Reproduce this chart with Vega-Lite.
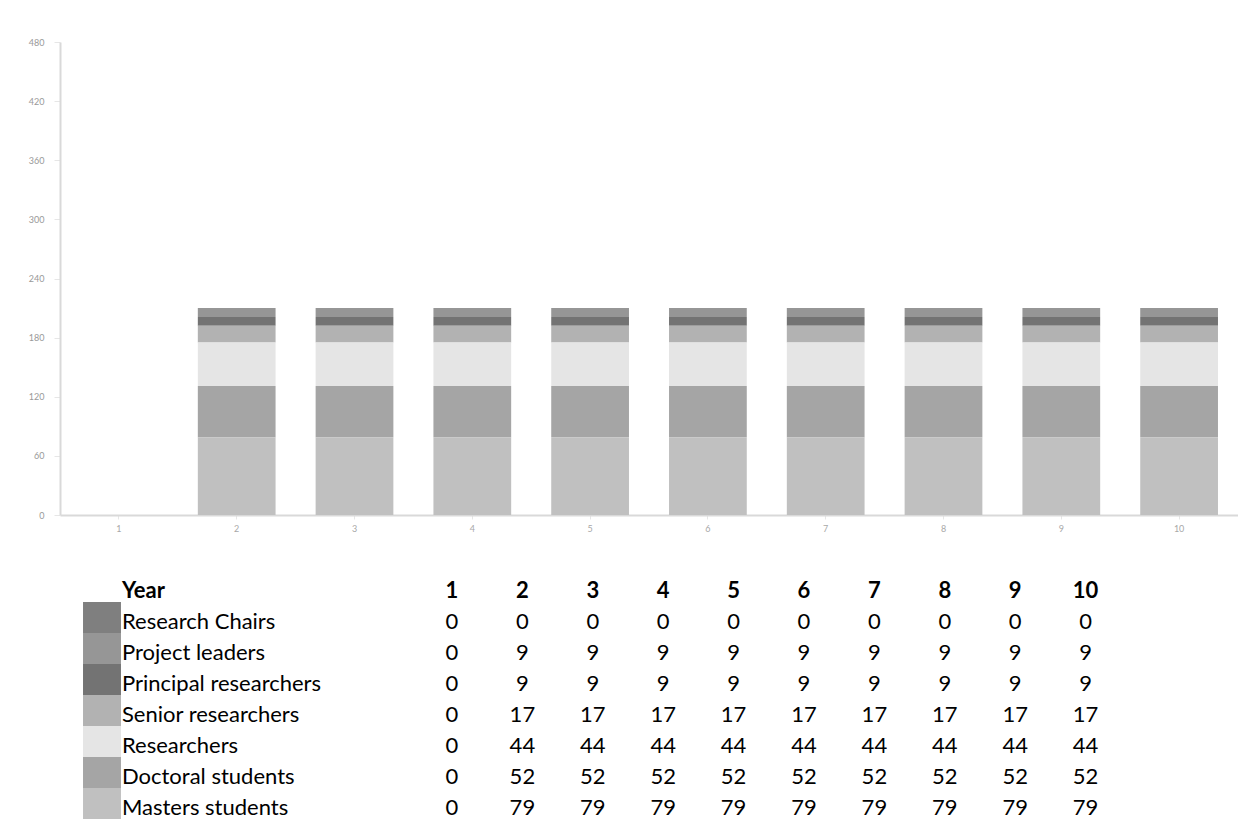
{
  "$schema": "https://vega.github.io/schema/vega-lite/v6.json",
  "padding": {"left": 28, "top": 38, "right": 0, "bottom": 0},
  "bounds": "flush",
  "spacing": 56,
  "config": {
    "view": {"stroke": null},
    "font": "Lato",
    "text": {"font": "Lato"}
  },
  "datasets": {
    "cells": [
      {"category": "Research Chairs", "level": 7, "year": 1, "value": 0},
      {"category": "Research Chairs", "level": 7, "year": 2, "value": 0},
      {"category": "Research Chairs", "level": 7, "year": 3, "value": 0},
      {"category": "Research Chairs", "level": 7, "year": 4, "value": 0},
      {"category": "Research Chairs", "level": 7, "year": 5, "value": 0},
      {"category": "Research Chairs", "level": 7, "year": 6, "value": 0},
      {"category": "Research Chairs", "level": 7, "year": 7, "value": 0},
      {"category": "Research Chairs", "level": 7, "year": 8, "value": 0},
      {"category": "Research Chairs", "level": 7, "year": 9, "value": 0},
      {"category": "Research Chairs", "level": 7, "year": 10, "value": 0},
      {"category": "Project leaders", "level": 6, "year": 1, "value": 0},
      {"category": "Project leaders", "level": 6, "year": 2, "value": 9},
      {"category": "Project leaders", "level": 6, "year": 3, "value": 9},
      {"category": "Project leaders", "level": 6, "year": 4, "value": 9},
      {"category": "Project leaders", "level": 6, "year": 5, "value": 9},
      {"category": "Project leaders", "level": 6, "year": 6, "value": 9},
      {"category": "Project leaders", "level": 6, "year": 7, "value": 9},
      {"category": "Project leaders", "level": 6, "year": 8, "value": 9},
      {"category": "Project leaders", "level": 6, "year": 9, "value": 9},
      {"category": "Project leaders", "level": 6, "year": 10, "value": 9},
      {"category": "Principal researchers", "level": 5, "year": 1, "value": 0},
      {"category": "Principal researchers", "level": 5, "year": 2, "value": 9},
      {"category": "Principal researchers", "level": 5, "year": 3, "value": 9},
      {"category": "Principal researchers", "level": 5, "year": 4, "value": 9},
      {"category": "Principal researchers", "level": 5, "year": 5, "value": 9},
      {"category": "Principal researchers", "level": 5, "year": 6, "value": 9},
      {"category": "Principal researchers", "level": 5, "year": 7, "value": 9},
      {"category": "Principal researchers", "level": 5, "year": 8, "value": 9},
      {"category": "Principal researchers", "level": 5, "year": 9, "value": 9},
      {"category": "Principal researchers", "level": 5, "year": 10, "value": 9},
      {"category": "Senior researchers", "level": 4, "year": 1, "value": 0},
      {"category": "Senior researchers", "level": 4, "year": 2, "value": 17},
      {"category": "Senior researchers", "level": 4, "year": 3, "value": 17},
      {"category": "Senior researchers", "level": 4, "year": 4, "value": 17},
      {"category": "Senior researchers", "level": 4, "year": 5, "value": 17},
      {"category": "Senior researchers", "level": 4, "year": 6, "value": 17},
      {"category": "Senior researchers", "level": 4, "year": 7, "value": 17},
      {"category": "Senior researchers", "level": 4, "year": 8, "value": 17},
      {"category": "Senior researchers", "level": 4, "year": 9, "value": 17},
      {"category": "Senior researchers", "level": 4, "year": 10, "value": 17},
      {"category": "Researchers", "level": 3, "year": 1, "value": 0},
      {"category": "Researchers", "level": 3, "year": 2, "value": 44},
      {"category": "Researchers", "level": 3, "year": 3, "value": 44},
      {"category": "Researchers", "level": 3, "year": 4, "value": 44},
      {"category": "Researchers", "level": 3, "year": 5, "value": 44},
      {"category": "Researchers", "level": 3, "year": 6, "value": 44},
      {"category": "Researchers", "level": 3, "year": 7, "value": 44},
      {"category": "Researchers", "level": 3, "year": 8, "value": 44},
      {"category": "Researchers", "level": 3, "year": 9, "value": 44},
      {"category": "Researchers", "level": 3, "year": 10, "value": 44},
      {"category": "Doctoral students", "level": 2, "year": 1, "value": 0},
      {"category": "Doctoral students", "level": 2, "year": 2, "value": 52},
      {"category": "Doctoral students", "level": 2, "year": 3, "value": 52},
      {"category": "Doctoral students", "level": 2, "year": 4, "value": 52},
      {"category": "Doctoral students", "level": 2, "year": 5, "value": 52},
      {"category": "Doctoral students", "level": 2, "year": 6, "value": 52},
      {"category": "Doctoral students", "level": 2, "year": 7, "value": 52},
      {"category": "Doctoral students", "level": 2, "year": 8, "value": 52},
      {"category": "Doctoral students", "level": 2, "year": 9, "value": 52},
      {"category": "Doctoral students", "level": 2, "year": 10, "value": 52},
      {"category": "Masters students", "level": 1, "year": 1, "value": 0},
      {"category": "Masters students", "level": 1, "year": 2, "value": 79},
      {"category": "Masters students", "level": 1, "year": 3, "value": 79},
      {"category": "Masters students", "level": 1, "year": 4, "value": 79},
      {"category": "Masters students", "level": 1, "year": 5, "value": 79},
      {"category": "Masters students", "level": 1, "year": 6, "value": 79},
      {"category": "Masters students", "level": 1, "year": 7, "value": 79},
      {"category": "Masters students", "level": 1, "year": 8, "value": 79},
      {"category": "Masters students", "level": 1, "year": 9, "value": 79},
      {"category": "Masters students", "level": 1, "year": 10, "value": 79}
    ]
  },
  "vconcat": [
    {
      "width": 1178,
      "height": 473,
      "data": {"name": "cells"},
      "mark": {"type": "bar"},
      "encoding": {
        "x": {
          "field": "year", "type": "ordinal",
          "scale": {"paddingInner": 0.34, "paddingOuter": 0.17},
          "axis": {"title": null, "labelAngle": 0, "labelFontSize": 9, "labelColor": "#a8a8a8", "domainColor": "#d9d9d9", "domainWidth": 2, "tickColor": "#e6e6e6", "tickSize": 4, "labelPadding": 5}
        },
        "y": {
          "field": "value", "type": "quantitative", "stack": "zero",
          "scale": {"domain": [0, 480], "nice": false},
          "axis": {"title": null, "values": [0, 60, 120, 180, 240, 300, 360, 420, 480], "grid": false, "labelFontSize": 9, "labelColor": "#999999", "domainColor": "#d9d9d9", "domainWidth": 2, "tickColor": "#e6e6e6", "tickSize": 6, "labelPadding": 10}
        },
        "color": {
          "field": "category", "type": "nominal", "legend": null,
          "scale": {
            "domain": ["Research Chairs", "Project leaders", "Principal researchers", "Senior researchers", "Researchers", "Doctoral students", "Masters students"],
            "range": ["#7f7f7f", "#969696", "#737373", "#b2b2b2", "#e5e5e5", "#a5a5a5", "#c0c0c0"]
          }
        },
        "order": {"field": "level", "type": "quantitative", "sort": "ascending"}
      }
    },
    {
      "width": 1178,
      "height": 248,
      "layer": [
        {
          "data": {"name": "cells"},
          "transform": [{"filter": "datum.year === 1"}],
          "mark": {"type": "rect"},
          "encoding": {
            "x": {"datum": -4.241, "type": "quantitative", "scale": {"domain": [-4.568, 12.165], "nice": false, "zero": false}, "axis": null},
            "x2": {"datum": -3.702},
            "y": {"field": "category", "type": "nominal", "axis": null,
              "scale": {"domain": ["Year", "Research Chairs", "Project leaders", "Principal researchers", "Senior researchers", "Researchers", "Doctoral students", "Masters students"], "paddingInner": 0, "paddingOuter": 0}},
            "color": {"field": "category", "type": "nominal", "legend": null}
          }
        },
        {
          "data": {"name": "cells"},
          "transform": [{"filter": "datum.year === 1"}],
          "mark": {"type": "text", "align": "left", "baseline": "middle", "fontSize": 22, "dy": 4, "color": "#000000"},
          "encoding": {
            "x": {"datum": -3.688, "type": "quantitative"},
            "y": {"field": "category", "type": "nominal"},
            "text": {"field": "category"}
          }
        },
        {
          "data": {"values": [{"label": "Year"}]},
          "mark": {"type": "text", "align": "left", "baseline": "middle", "fontSize": 22, "dy": 4, "fontWeight": "bold", "color": "#000000"},
          "encoding": {
            "x": {"datum": -3.688, "type": "quantitative"},
            "y": {"datum": "Year", "type": "nominal"},
            "text": {"field": "label"}
          }
        },
        {
          "data": {"name": "cells"},
          "transform": [{"filter": "datum.category === 'Research Chairs'"}],
          "mark": {"type": "text", "align": "center", "baseline": "middle", "fontSize": 22, "dy": 4, "fontWeight": "bold", "color": "#000000"},
          "encoding": {
            "x": {"field": "year", "type": "quantitative"},
            "y": {"datum": "Year", "type": "nominal"},
            "text": {"field": "year"}
          }
        },
        {
          "data": {"name": "cells"},
          "mark": {"type": "text", "align": "center", "baseline": "middle", "fontSize": 22, "dy": 4, "color": "#000000"},
          "encoding": {
            "x": {"field": "year", "type": "quantitative"},
            "y": {"field": "category", "type": "nominal"},
            "text": {"field": "value"}
          }
        }
      ]
    }
  ]
}
